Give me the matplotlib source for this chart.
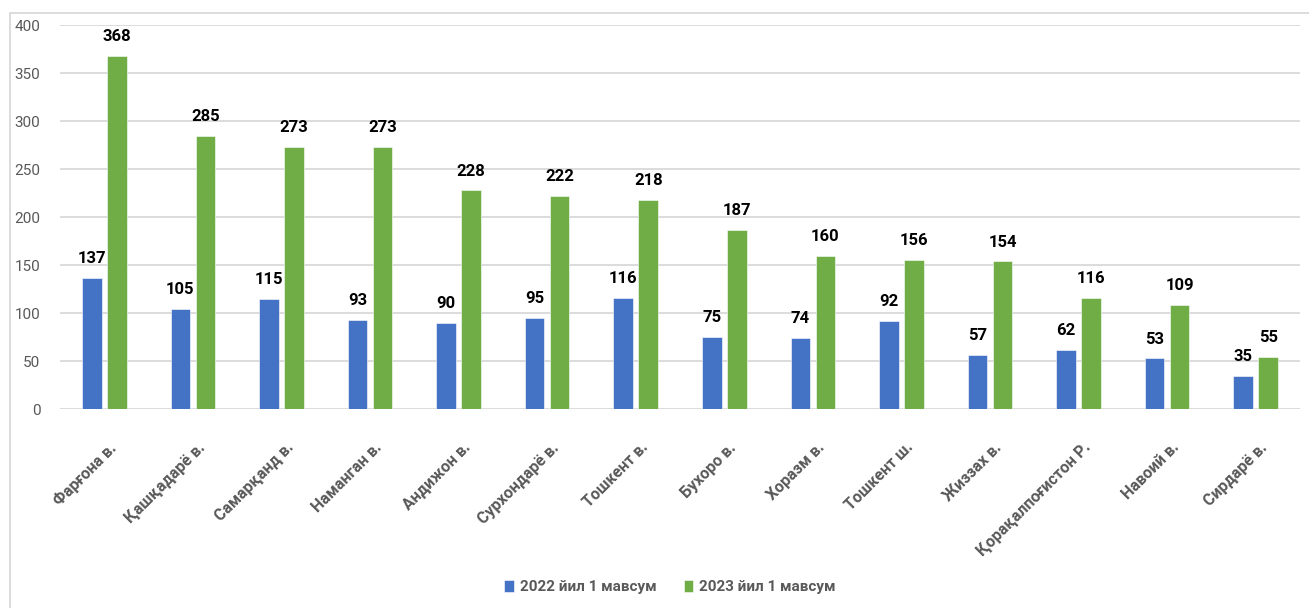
import numpy as np
import matplotlib
matplotlib.use("Agg")
import matplotlib.pyplot as plt
from matplotlib.patches import Rectangle

plt.rcParams['font.family'] = ['Roboto', 'DejaVu Sans']

# data
regions = ["Фарғона в.", "Қашқадарё в.", "Самарқанд в.", "Наманган в.",
           "Андижон в.", "Сурхондарё в.", "Тошкент в.", "Бухоро в.",
           "Хоразм в.", "Тошкент ш.", "Жиззах в.", "Қорақалпоғистон Р.",
           "Навоий в.", "Сирдарё в."]
season_2022 = [137, 105, 115, 93, 90, 95, 116, 75, 74, 92, 57, 62, 53, 35]
season_2023 = [368, 285, 273, 273, 228, 222, 218, 187, 160, 156, 154, 116, 109, 55]
series_names = ["2022 йил 1 мавсум", "2023 йил 1 мавсум"]
yticks = [0, 50, 100, 150, 200, 250, 300, 350, 400]

blue = "#4472C4"
green = "#70AD47"
gray_txt = "#595959"
grid_col = "#d9d9d9"

fig = plt.figure(figsize=(13.09, 6.08), dpi=100)
ax = fig.add_axes([60 / 1309, 1 - 409.3 / 608, 1240 / 1309, 384 / 608])

# chart frame (top and left edges visible)
fig.add_artist(Rectangle((10 / 1309, -0.1), 1.2, 1.1 - 13 / 608,
                         transform=fig.transFigure, fill=False,
                         edgecolor=grid_col, lw=1.3))

x = np.arange(len(regions))
w = 0.22
off = (w + 0.062) / 2

b1 = ax.bar(x - off, season_2022, w, color=blue, edgecolor="white", lw=0.4,
            label=series_names[0], zorder=3)
b2 = ax.bar(x + off, season_2023, w, color=green, edgecolor="white", lw=0.4,
            label=series_names[1], zorder=3)

for bars in (b1, b2):
    for r in bars:
        ax.annotate(str(int(r.get_height())),
                    (r.get_x() + r.get_width() / 2, r.get_height()),
                    xytext=(0, 8.5), textcoords="offset points",
                    ha="center", va="bottom", fontsize=12, fontweight="bold",
                    color="black")

ax.set_xlim(-0.5, len(regions) - 0.5)
ax.set_ylim(0, 400)
ax.set_yticks(yticks)
ax.grid(axis="y", color=grid_col, lw=1.3, zorder=0)
ax.set_axisbelow(True)
for s in ax.spines.values():
    s.set_visible(False)
ax.tick_params(axis="both", length=0)
ax.tick_params(axis="y", labelsize=11, labelcolor=gray_txt, pad=14)

ax.set_xticks(x + 0.05)
ax.set_xticklabels(regions, rotation=45, ha="right", va="top",
                   rotation_mode="anchor", fontsize=11.5, fontweight="bold",
                   color=gray_txt)
ax.tick_params(axis="x", pad=22)

leg = fig.legend(loc="center", bbox_to_anchor=(670 / 1309, 1 - 587 / 608),
                 ncol=2, frameon=False, handlelength=0.6, handleheight=0.9,
                 columnspacing=1.8, handletextpad=0.4,
                 prop={"size": 11, "weight": "bold"})
for t in leg.get_texts():
    t.set_color(gray_txt)

fig.savefig("out.png", dpi=100)
